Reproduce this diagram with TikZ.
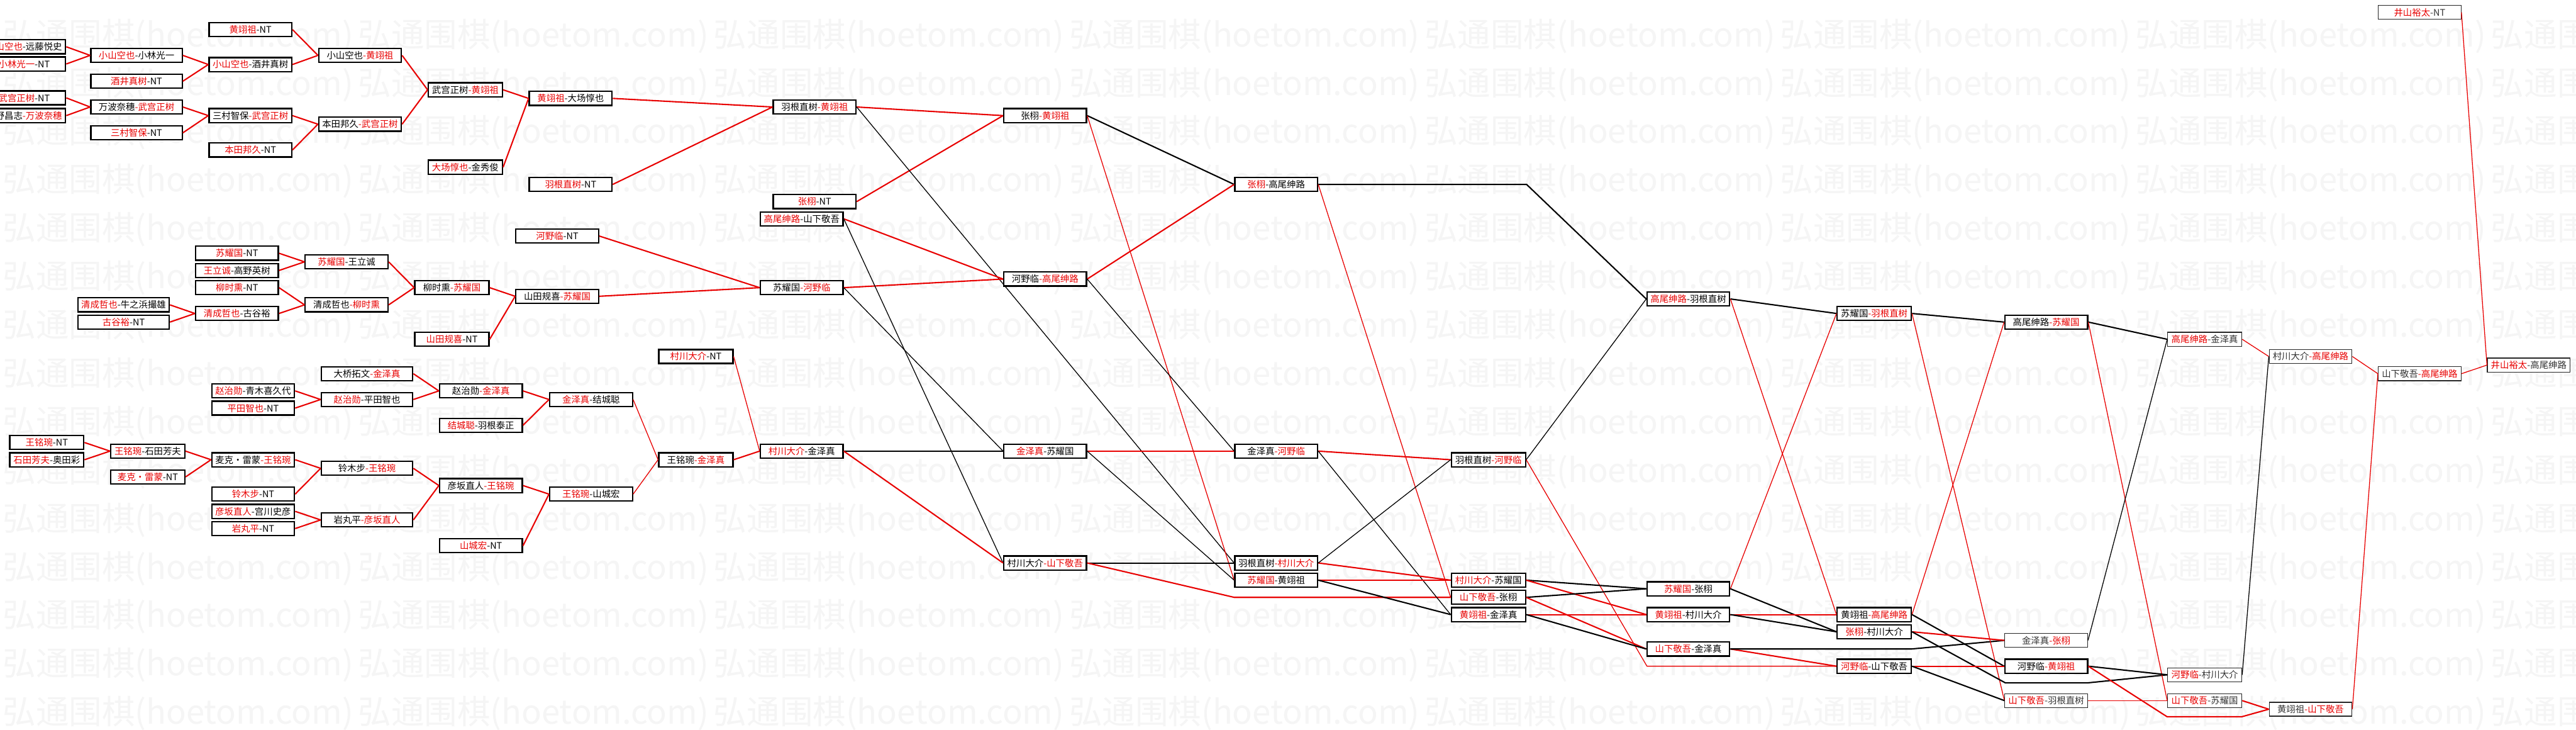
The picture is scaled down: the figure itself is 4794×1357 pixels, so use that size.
\documentclass[tikz,border=0pt]{standalone}
\usepackage{fontspec}
\setmainfont{Noto Sans CJK SC}
\definecolor{winred}{RGB}{232,0,0}
\newcommand{\rw}[1]{\textcolor{winred}{#1}}
\tikzset{
  match/.style={draw,line width=1.5pt,fill=white,inner sep=0pt,minimum width=3.08cm,minimum height=.52cm,font=\fontsize{9.6}{10}\selectfont},
  narrow/.style={match,minimum width=2.76cm},
  wide/.style={match,minimum width=3.4cm},
  late/.style={match,line width=.9pt,draw=black!85,text=black!80},
  latenarrow/.style={late,minimum width=2.76cm},
  win/.style={winred,line width=1.4pt},
  winthin/.style={winred,line width=.85pt},
  lose/.style={black,line width=1.4pt},
  losethin/.style={black,line width=.85pt},
  wmark/.style={anchor=west,inner sep=0pt,text=black!4,font=\fontsize{35}{35}\selectfont}
}
\begin{document}
\begin{tikzpicture}[x=.02cm,y=-.02cm]

\useasboundingbox (0,0) rectangle (4794,1357);
\fill[white] (0,0) rectangle (4794,1357);

\foreach \r in {0,...,14}
  \foreach \c in {0,...,7}
    \node[wmark] (wm-\r-\c) at (5+661.5*\c,67+90*\r) {弘通围棋(hoetom.com)};

\node[match] (a1) at (45,87) {\rw{小山空也}-远藤悦史};
\node[match] (a2) at (45,119) {\rw{小林光一}-NT};
\node[match] (a3) at (45,182) {\rw{武宫正树}-NT};
\node[match] (a4) at (45,215) {\hspace{1em}野昌志\rw{-万波奈穗}};
\node[wide] (b1) at (254,103) {\rw{小山空也}-小林光一};
\node[wide] (b2) at (254,151) {\rw{酒井真树}-NT};
\node[wide] (b3) at (254,199) {万波奈穗\rw{-武宫正树}};
\node[wide] (b4) at (254,247) {\rw{三村智保}-NT};
\node[match] (c1) at (466,55) {\rw{黄翊祖}-NT};
\node[match] (c2) at (466,120) {\rw{小山空也}-酒井真树};
\node[match] (c3) at (466,215) {三村智保\rw{-武宫正树}};
\node[match] (c4) at (466,279) {\rw{本田邦久}-NT};
\node[match] (d1) at (670,103) {小山空也\rw{-黄翊祖}};
\node[match] (d2) at (670,231) {本田邦久\rw{-武宫正树}};
\node[narrow] (e1) at (866,167) {武宫正树\rw{-黄翊祖}};
\node[narrow] (e2) at (866,311) {\rw{大场惇也}-金秀俊};
\node[match] (f1) at (1062,183) {\rw{黄翊祖}-大场惇也};
\node[match] (f2) at (1062,343) {\rw{羽根直树}-NT};

\node[wide] (s5) at (230,567) {\rw{清成哲也}-牛之浜撮雄};
\node[wide] (s6) at (230,599) {\rw{古谷裕}-NT};
\node[match] (s1) at (441,471) {\rw{苏耀国}-NT};
\node[match] (s2) at (441,503) {\rw{王立诚}-高野英树};
\node[match] (s3) at (441,535) {\rw{柳时熏}-NT};
\node[match] (s4) at (441,583) {\rw{清成哲也}-古谷裕};
\node[match] (s7) at (645,487) {\rw{苏耀国}-王立诚};
\node[match] (s8) at (645,567) {清成哲也\rw{-柳时熏}};
\node[narrow] (s9) at (841,535) {柳时熏\rw{-苏耀国}};
\node[narrow] (s10) at (841,631) {\rw{山田规喜}-NT};
\node[match] (s11) at (1037,551) {山田规喜\rw{-苏耀国}};
\node[match] (s12) at (1037,439) {\rw{河野临}-NT};

\node[wide] (k1) at (683,695) {大桥拓文\rw{-金泽真}};
\node[match] (k2) at (471,727) {\rw{赵治勋}-青木喜久代};
\node[match] (k3) at (471,759) {\rw{平田智也}-NT};
\node[wide] (k4) at (683,743) {\rw{赵治勋}-平田智也};
\node[match] (k5) at (895,727) {赵治勋\rw{-金泽真}};
\node[match] (k6) at (895,791) {\rw{结城聪}-羽根泰正};
\node[match] (k7) at (1100,743) {\rw{金泽真}-结城聪};
\node[narrow] (m1) at (87,823) {\rw{王铭琬}-NT};
\node[narrow] (m2) at (87,855) {\rw{石田芳夫}-奥田彩};
\node[narrow] (m3) at (275,839) {\rw{王铭琬}-石田芳夫};
\node[narrow] (m4) at (275,887) {\rw{麦克・雷蒙}-NT};
\node[match] (m5) at (471,855) {麦克・雷蒙\rw{-王铭琬}};
\node[match] (m6) at (471,919) {\rw{铃木步}-NT};
\node[match] (m7) at (471,951) {\rw{彦坂直人}-宫川史彦};
\node[match] (m8) at (471,983) {\rw{岩丸平}-NT};
\node[wide] (m9) at (683,871) {铃木步\rw{-王铭琬}};
\node[wide] (m10) at (683,967) {岩丸平\rw{-彦坂直人}};
\node[match] (m11) at (895,903) {彦坂直人\rw{-王铭琬}};
\node[match] (m12) at (895,1015) {\rw{山城宏}-NT};
\node[match] (m13) at (1100,919) {\rw{王铭琬}-山城宏};
\node[narrow] (g1) at (1295,663) {\rw{村川大介}-NT};
\node[narrow] (g2) at (1295,855) {王铭琬\rw{-金泽真}};

\node[match] (h1) at (1516,199) {羽根直树\rw{-黄翊祖}};
\node[match] (h2) at (1516,375) {\rw{张栩}-NT};
\node[match] (h3) at (1492,407) {\rw{高尾绅路}-山下敬吾};
\node[match] (h4) at (1492,535) {苏耀国\rw{-河野临}};
\node[match] (h5) at (1492,839) {\rw{村川大介}-金泽真};
\node[match] (i1) at (1945,215) {张栩\rw{-黄翊祖}};
\node[match] (i2) at (1945,519) {河野临\rw{-高尾绅路}};
\node[match] (i3) at (1945,839) {\rw{金泽真}-苏耀国};
\node[match] (i4) at (1945,1047) {村川大介\rw{-山下敬吾}};
\node[match] (j1) at (2375,343) {\rw{张栩}-高尾绅路};
\node[match] (j2) at (2375,839) {金泽真\rw{-河野临}};
\node[match] (j3) at (2375,1047) {羽根直树\rw{-村川大介}};
\node[match] (j4) at (2375,1079) {\rw{苏耀国}-黄翊祖};
\node[narrow] (q1) at (2770,855) {羽根直树\rw{-河野临}};
\node[narrow] (q2) at (2770,1079) {\rw{村川大介}-苏耀国};
\node[narrow] (q3) at (2770,1111) {\rw{山下敬吾}-张栩};
\node[narrow] (q4) at (2770,1143) {\rw{黄翊祖}-金泽真};
\node[match] (t1) at (3142,556) {\rw{高尾绅路}-羽根直树};
\node[match] (t2) at (3142,1095) {\rw{苏耀国}-张栩};
\node[match] (t3) at (3142,1143) {\rw{黄翊祖}-村川大介};
\node[match] (t4) at (3142,1207) {\rw{山下敬吾}-金泽真};
\node[narrow] (u1) at (3488,583) {苏耀国\rw{-羽根直树}};
\node[narrow] (u2) at (3488,1143) {黄翊祖\rw{-高尾绅路}};
\node[narrow] (u3) at (3488,1175) {\rw{张栩}-村川大介};
\node[narrow] (u4) at (3488,1239) {\rw{河野临}-山下敬吾};
\node[match] (v1) at (3808,599) {高尾绅路\rw{-苏耀国}};
\node[late] (v2) at (3808,1191) {金泽真\rw{-张栩}};
\node[match] (v3) at (3808,1239) {河野临\rw{-黄翊祖}};
\node[late] (v4) at (3808,1303) {\rw{山下敬吾}-羽根直树};
\node[latenarrow] (w1) at (4103,631) {\rw{高尾绅路}-金泽真};
\node[latenarrow] (w2) at (4103,1255) {\rw{河野临}-村川大介};
\node[latenarrow] (w3) at (4103,1303) {\rw{山下敬吾}-苏耀国};
\node[late] (x1) at (4300,663) {村川大介\rw{-高尾绅路}};
\node[late] (x2) at (4300,1319) {黄翊祖\rw{-山下敬吾}};
\node[late] (y1) at (4503,23) {\rw{井山裕太}-NT};
\node[late] (y2) at (4503,695) {山下敬吾\rw{-高尾绅路}};
\node[late] (z1) at (4706,679) {\rw{井山裕太}-高尾绅路};

\coordinate (i4b) at (2297,1111);
\coordinate (j1b) at (2841,343);
\coordinate (q1b) at (3065,1239);
\coordinate (t4b) at (3557,1207);
\coordinate (u3b) at (3732,1270);
\coordinate (u3c) at (3885,1270);
\coordinate (v3b) at (4033,1333);
\coordinate (v3c) at (4172,1333);

\draw[win] (a1.east) -- (b1.west);
\draw[win] (a2.east) -- (b1.west);
\draw[win] (b1.east) -- (c2.west);
\draw[win] (b2.east) -- (c2.west);
\draw[win] (c1.east) -- (d1.west);
\draw[win] (c2.east) -- (d1.west);
\draw[win] (a3.east) -- (b3.west);
\draw[win] (a4.east) -- (b3.west);
\draw[win] (b3.east) -- (c3.west);
\draw[win] (b4.east) -- (c3.west);
\draw[win] (c3.east) -- (d2.west);
\draw[win] (c4.east) -- (d2.west);
\draw[win] (d1.east) -- (e1.west);
\draw[win] (d2.east) -- (e1.west);
\draw[win] (e1.east) -- (f1.west);
\draw[win] (e2.east) -- (f1.west);
\draw[win] (f1.east) -- (h1.west);
\draw[win] (f2.east) -- (h1.west);

\draw[win] (s1.east) -- (s7.west);
\draw[win] (s2.east) -- (s7.west);
\draw[win] (s5.east) -- (s4.west);
\draw[win] (s6.east) -- (s4.west);
\draw[win] (s3.east) -- (s8.west);
\draw[win] (s4.east) -- (s8.west);
\draw[win] (s7.east) -- (s9.west);
\draw[win] (s8.east) -- (s9.west);
\draw[win] (s9.east) -- (s11.west);
\draw[win] (s10.east) -- (s11.west);
\draw[win] (s11.east) -- (h4.west);
\draw[win] (s12.east) -- (h4.west);

\draw[win] (k2.east) -- (k4.west);
\draw[win] (k3.east) -- (k4.west);
\draw[win] (k1.east) -- (k5.west);
\draw[win] (k4.east) -- (k5.west);
\draw[win] (k5.east) -- (k7.west);
\draw[win] (k6.east) -- (k7.west);
\draw[win] (m1.east) -- (m3.west);
\draw[win] (m2.east) -- (m3.west);
\draw[win] (m3.east) -- (m5.west);
\draw[win] (m4.east) -- (m5.west);
\draw[win] (m5.east) -- (m9.west);
\draw[win] (m6.east) -- (m9.west);
\draw[win] (m7.east) -- (m10.west);
\draw[win] (m8.east) -- (m10.west);
\draw[win] (m9.east) -- (m11.west);
\draw[win] (m10.east) -- (m11.west);
\draw[win] (m11.east) -- (m13.west);
\draw[win] (m12.east) -- (m13.west);
\draw[winthin] (k7.east) -- (g2.west);
\draw[winthin] (m13.east) -- (g2.west);
\draw[win] (g2.east) -- (h5.west);
\draw[winthin] (g1.east) -- (h5.west);

\draw[win] (h1.east) -- (i1.west);
\draw[win] (h2.east) -- (i1.west);
\draw[losethin] (h1.east) -- (j3.west);
\draw[win] (h3.east) -- (i2.west);
\draw[win] (h4.east) -- (i2.west);
\draw[losethin] (h3.east) -- (i4.west);
\draw[losethin] (h4.east) -- (i3.west);
\draw[lose] (h5.east) -- (i3.west);
\draw[win] (h5.east) -- (i4.west);

\draw[lose] (i1.east) -- (j1.west);
\draw[winthin] (i1.east) -- (j4.west);
\draw[win] (i2.east) -- (j1.west);
\draw[losethin] (i2.east) -- (j2.west);
\draw[win] (i3.east) -- (j2.west);
\draw[losethin] (i3.east) -- (j4.west);
\draw[lose] (i4.east) -- (j3.west);
\draw[win] (i4.east) -- (i4b) -- (q3.west);

\draw[lose] (j1.east) -- (j1b) -- (t1.west);
\draw[winthin] (j1.east) -- (q3.west);
\draw[win] (j2.east) -- (q1.west);
\draw[losethin] (j2.east) -- (q4.west);
\draw[win] (j3.east) -- (q2.west);
\draw[losethin] (j3.east) -- (q1.west);
\draw[win] (j4.east) -- (q2.west);
\draw[lose] (j4.east) -- (q4.west);

\draw[losethin] (q1.east) -- (t1.west);
\draw[winthin] (q1.east) -- (q1b) -- (u4.west);
\draw[lose] (q2.east) -- (t2.west);
\draw[win] (q2.east) -- (t3.west);
\draw[lose] (q3.east) -- (t2.west);
\draw[win] (q3.east) -- (t4.west);
\draw[win] (q4.east) -- (t3.west);
\draw[lose] (q4.east) -- (t4.west);

\draw[lose] (t1.east) -- (u1.west);
\draw[winthin] (t1.east) -- (u2.west);
\draw[winthin] (t2.east) -- (u1.west);
\draw[lose] (t2.east) -- (u3.west);
\draw[win] (t3.east) -- (u2.west);
\draw[lose] (t3.east) -- (u3.west);
\draw[win] (t4.east) -- (u4.west);
\draw[lose] (t4.east) -- (t4b) -- (v2.west);

\draw[lose] (u1.east) -- (v1.west);
\draw[winthin] (u1.east) -- (v4.west);
\draw[winthin] (u2.east) -- (v1.west);
\draw[lose] (u2.east) -- (v3.west);
\draw[win] (u3.east) -- (v2.west);
\draw[lose] (u3.east) -- (u3b) -- (u3c) -- (w2.west);
\draw[win] (u4.east) -- (v3.west);
\draw[lose] (u4.east) -- (v4.west);

\draw[lose] (v1.east) -- (w1.west);
\draw[winthin] (v1.east) -- (w3.west);
\draw[losethin] (v2.east) -- (w1.west);
\draw[lose] (v3.east) -- (w2.west);
\draw[win] (v3.east) -- (v3b) -- (v3c) -- (x2.west);
\draw[winthin] (v4.east) -- (w3.west);

\draw[winthin] (w1.east) -- (x1.west);
\draw[losethin] (w2.east) -- (x1.west);
\draw[win] (w3.east) -- (x2.west);
\draw[winthin] (x1.east) -- (y2.west);
\draw[winthin] (x2.east) -- (y2.west);
\draw[winthin] (y1.east) -- (z1.west);
\draw[winthin] (y2.east) -- (z1.west);

\end{tikzpicture}
\end{document}
